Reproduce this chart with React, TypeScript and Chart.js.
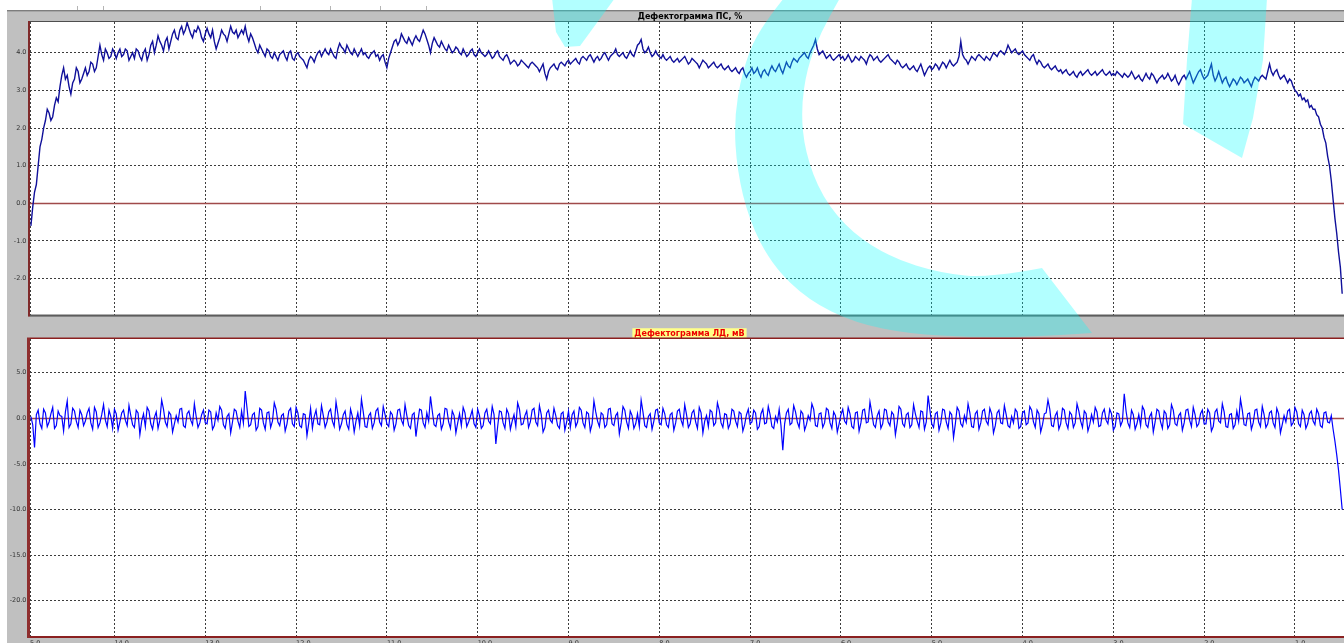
import React, { useEffect, useRef } from "react";
import { Chart, registerables } from "chart.js";

Chart.register(...registerables);

// ---- distance axis (reversed, km) ----
const X_STEP = 0.02;
const X_FIRST = 14.92; // first sample of the first (partial) km row
const X_MIN = 0.46;
const X_MAX = 14.93;
const X_TICK_VALUES = [14.93, 14, 13, 12, 11, 10, 9, 8, 7, 6, 5, 4, 3, 2, 1];
const X_TICK_LABELS = ["5.0", "14.0", "13.0", "12.0", "11.0", "10.0", "9.0", "8.0", "7.0", "6.0", "5.0", "4.0", "3.0", "2.0", "1.0"];

// ---- titles ----
const PS_TITLE = "Дефектограмма ПС, %";
const LD_TITLE = "Дефектограмма ЛД, мВ";

// ---- y axes ----
const PS_Y_TICKS = [4, 3, 2, 1, 0, -1, -2];
const PS_Y_MIN = -2.955;
const PS_Y_MAX = 4.816;
const LD_Y_TICKS = [5, 0, -5, -10, -15, -20];
const LD_Y_MIN = -23.87;
const LD_Y_MAX = 8.7;

// ---- series: Дефектограмма ПС, % (one row per km, samples every 0.02 km) ----
const PS_ROWS = [
  [-0.6, -0.1, 0.3, 0.5, 1.0, 1.5, 1.7, 2.0, 2.2, 2.5, 2.4, 2.2, 2.3, 2.6, 2.8, 2.7, 3.1, 3.4, 3.6, 3.3, 3.4, 3.1, 2.9, 3.2, 3.3, 3.6, 3.5, 3.2, 3.3, 3.45, 3.6, 3.4, 3.5, 3.75, 3.7, 3.5, 3.6, 3.9, 4.2, 3.95, 3.8, 4.1, 4.0, 3.85, 3.9, 4.1, 4.0],
  [3.85, 4.0, 4.1, 3.9, 3.95, 4.1, 4.05, 3.8, 3.9, 4.0, 3.85, 4.1, 4.05, 3.9, 3.8, 4.0, 4.1, 3.8, 3.95, 4.2, 4.3, 4.0, 4.2, 4.45, 4.3, 4.2, 4.05, 4.3, 4.4, 4.1, 4.3, 4.5, 4.6, 4.4, 4.35, 4.6, 4.7, 4.5, 4.6, 4.8, 4.65, 4.5, 4.4, 4.6, 4.55, 4.7, 4.6, 4.4, 4.3, 4.5],
  [4.65, 4.5, 4.4, 4.6, 4.3, 4.1, 4.25, 4.4, 4.6, 4.5, 4.45, 4.3, 4.5, 4.7, 4.55, 4.5, 4.6, 4.4, 4.5, 4.6, 4.5, 4.7, 4.45, 4.3, 4.5, 4.4, 4.25, 4.1, 4.0, 4.2, 4.1, 4.0, 3.9, 4.1, 4.05, 3.9, 3.85, 4.0, 3.9, 3.8, 3.95, 4.0, 4.05, 3.9, 3.8, 4.0, 4.05, 3.85, 3.8, 3.95],
  [4.0, 3.9, 3.85, 3.8, 3.7, 3.6, 3.8, 3.9, 3.85, 3.75, 3.9, 4.0, 4.05, 3.9, 4.0, 4.1, 4.0, 3.95, 4.1, 4.0, 3.9, 3.85, 4.1, 4.25, 4.15, 4.1, 4.0, 4.2, 4.1, 4.0, 3.95, 4.1, 4.0, 3.9, 4.0, 4.1, 3.95, 4.0, 3.9, 3.85, 3.95, 4.0, 4.05, 3.9, 3.95, 3.8, 3.9, 3.95, 3.75, 3.6],
  [3.85, 4.0, 4.15, 4.3, 4.35, 4.2, 4.3, 4.5, 4.4, 4.3, 4.25, 4.4, 4.3, 4.2, 4.35, 4.45, 4.35, 4.3, 4.45, 4.6, 4.5, 4.35, 4.2, 4.0, 4.25, 4.4, 4.3, 4.2, 4.15, 4.3, 4.2, 4.1, 4.05, 4.2, 4.1, 4.0, 4.05, 4.15, 4.1, 4.0, 3.95, 4.1, 4.0, 3.9, 3.95, 4.05, 4.1, 3.95, 3.9, 4.0],
  [4.1, 4.0, 3.95, 3.9, 3.95, 4.05, 3.95, 3.85, 3.9, 4.0, 4.05, 3.9, 3.85, 3.8, 3.9, 3.95, 3.85, 3.7, 3.75, 3.8, 3.75, 3.65, 3.7, 3.8, 3.75, 3.7, 3.65, 3.6, 3.7, 3.75, 3.7, 3.65, 3.6, 3.5, 3.6, 3.7, 3.45, 3.3, 3.5, 3.6, 3.65, 3.7, 3.6, 3.55, 3.7, 3.75, 3.7, 3.65, 3.75, 3.8],
  [3.7, 3.75, 3.8, 3.85, 3.75, 3.7, 3.85, 3.9, 3.85, 3.8, 3.9, 3.95, 3.85, 3.75, 3.85, 3.9, 3.8, 3.85, 3.95, 4.0, 3.9, 3.8, 3.9, 3.95, 4.0, 4.1, 3.95, 3.9, 3.95, 4.0, 3.9, 3.85, 3.95, 4.05, 3.95, 3.9, 4.05, 4.2, 4.25, 4.35, 4.1, 4.0, 4.05, 4.15, 4.0, 3.9, 3.95, 4.05, 3.95, 3.9],
  [3.85, 3.95, 3.85, 3.8, 3.85, 3.9, 3.8, 3.75, 3.8, 3.85, 3.75, 3.8, 3.85, 3.9, 3.8, 3.7, 3.75, 3.85, 3.8, 3.75, 3.7, 3.6, 3.7, 3.8, 3.75, 3.7, 3.6, 3.65, 3.7, 3.75, 3.65, 3.6, 3.65, 3.7, 3.6, 3.55, 3.6, 3.65, 3.55, 3.5, 3.55, 3.6, 3.5, 3.45, 3.55, 3.6, 3.45, 3.35, 3.45, 3.5],
  [3.6, 3.45, 3.5, 3.6, 3.45, 3.35, 3.5, 3.55, 3.45, 3.4, 3.55, 3.65, 3.55, 3.5, 3.6, 3.7, 3.55, 3.45, 3.6, 3.75, 3.65, 3.6, 3.75, 3.85, 3.8, 3.75, 3.85, 3.9, 3.95, 4.0, 3.9, 3.85, 4.0, 4.1, 4.2, 4.35, 4.1, 3.95, 4.0, 4.05, 3.95, 3.85, 3.9, 3.95, 3.85, 3.8, 3.85, 3.9, 3.95, 3.85],
  [3.9, 3.8, 3.85, 3.95, 3.85, 3.75, 3.8, 3.9, 3.85, 3.8, 3.9, 3.85, 3.8, 3.7, 3.85, 3.95, 3.9, 3.8, 3.85, 3.9, 3.8, 3.75, 3.8, 3.85, 3.9, 3.95, 3.85, 3.8, 3.75, 3.7, 3.8, 3.75, 3.65, 3.6, 3.65, 3.7, 3.6, 3.55, 3.6, 3.65, 3.55, 3.5, 3.6, 3.7, 3.55, 3.4, 3.5, 3.6, 3.65, 3.55],
  [3.6, 3.7, 3.65, 3.55, 3.65, 3.75, 3.7, 3.6, 3.7, 3.8, 3.7, 3.65, 3.7, 3.75, 3.9, 4.3, 3.95, 3.85, 3.8, 3.7, 3.8, 3.9, 3.85, 3.8, 3.9, 3.95, 3.9, 3.85, 3.8, 3.9, 3.85, 3.8, 3.9, 4.0, 3.95, 3.9, 4.0, 4.05, 4.0, 3.95, 4.05, 4.2, 4.1, 4.0, 4.05, 4.1, 4.0, 3.95, 4.0, 4.05],
  [3.95, 3.9, 3.85, 3.8, 3.9, 3.95, 3.8, 3.7, 3.8, 3.75, 3.65, 3.6, 3.65, 3.7, 3.6, 3.55, 3.6, 3.65, 3.55, 3.5, 3.55, 3.45, 3.5, 3.55, 3.45, 3.4, 3.45, 3.5, 3.4, 3.35, 3.45, 3.5, 3.4, 3.45, 3.5, 3.55, 3.45, 3.4, 3.45, 3.5, 3.4, 3.45, 3.5, 3.55, 3.45, 3.4, 3.45, 3.5, 3.4, 3.45],
  [3.4, 3.5, 3.45, 3.4, 3.35, 3.45, 3.4, 3.35, 3.4, 3.5, 3.4, 3.3, 3.35, 3.4, 3.3, 3.25, 3.35, 3.45, 3.35, 3.3, 3.45, 3.4, 3.3, 3.2, 3.3, 3.35, 3.4, 3.3, 3.35, 3.45, 3.35, 3.25, 3.3, 3.4, 3.25, 3.15, 3.25, 3.35, 3.4, 3.3, 3.4, 3.5, 3.35, 3.2, 3.3, 3.4, 3.5, 3.55, 3.4, 3.3],
  [3.35, 3.4, 3.55, 3.7, 3.4, 3.25, 3.35, 3.5, 3.35, 3.2, 3.3, 3.35, 3.2, 3.1, 3.2, 3.3, 3.25, 3.15, 3.25, 3.35, 3.3, 3.2, 3.25, 3.3, 3.2, 3.1, 3.25, 3.35, 3.3, 3.25, 3.35, 3.4, 3.35, 3.3, 3.5, 3.7, 3.5, 3.4, 3.5, 3.55, 3.4, 3.3, 3.35, 3.4, 3.3, 3.2, 3.3, 3.25, 3.1, 3.0],
  [2.95, 2.85, 2.9, 2.75, 2.8, 2.7, 2.75, 2.55, 2.6, 2.5, 2.5, 2.35, 2.3, 2.1, 2.0, 1.75, 1.6, 1.25, 1.0, 0.6, 0.1, -0.4, -0.8, -1.3, -1.7, -2.4],
];

// ---- series: Дефектограмма ЛД, мВ (same sampling) ----
const LD_ROWS = [
  [0.2, -0.7, -3.2, 0.4, 0.9, -0.6, -1.1, 1.0, 0.6, -0.9, -0.4, 0.5, 1.2, -1.1, -0.8, 0.8, 0.3, 0.2, -1.4, 0.7, 1.9, -1.0, -0.6, 1.1, 0.8, -0.3, -1.0, 0.9, 0.4, -0.8, -0.3, 0.6, 1.1, -0.5, -1.2, 1.2, 0.7, -1.0, -0.5, 0.4, 1.5, -0.2, -0.9, 0.9, 0.2, -1.1, 1.0],
  [0.5, -1.3, -0.4, 0.6, 0.9, -0.2, -0.8, 1.4, 0.3, -0.7, -1.0, 0.9, 0.6, -1.8, -0.3, 0.5, -0.9, 1.2, 0.8, -0.6, -1.2, 0.1, 0.7, -1.1, -0.2, 2.0, 1.0, -0.4, -0.9, 0.7, 0.4, -1.5, -0.6, 0.3, -0.4, 1.0, 1.1, -0.8, -1.0, 0.5, 0.8, -0.2, -0.7, 1.6, 0.2, -1.0, -0.5, 0.4, 0.9, -0.5],
  [-0.6, 0.9, 0.7, -1.2, -0.8, 0.6, -0.2, 1.3, 0.9, -0.7, -1.1, 0.2, 0.5, -1.6, -0.4, 1.0, 0.8, -0.3, -1.0, 0.8, -0.5, 3.0, 1.1, -0.9, -0.7, 0.4, 0.6, -1.3, -0.9, 1.1, 0.9, -0.5, -1.2, 0.6, 0.7, -1.0, -0.3, 1.7, 1.0, -0.4, -0.8, 0.3, 0.5, -1.4, -0.6, 0.8, 1.1, -0.6, -0.9, 1.2],
  [0.6, -0.8, -1.0, 0.5, 0.4, -1.9, -0.5, 1.1, -1.1, 0.2, 0.9, -0.6, -0.7, 1.4, 0.3, -1.0, -0.4, 0.7, 1.0, -0.3, -0.9, 1.8, 0.5, -1.2, -0.6, 0.4, 0.8, -0.7, -1.2, 1.0, 0.2, -1.5, -0.3, 0.6, -0.8, 2.1, 0.7, -0.9, -1.0, 0.3, 0.6, -1.1, -0.5, 0.8, 1.1, -0.4, -0.8, 1.3, 0.4, -0.6],
  [-0.9, 0.7, 0.4, -1.3, -0.6, 0.9, 1.0, -0.2, -0.7, 1.5, 0.3, -0.8, -1.1, 0.4, 0.6, -2.0, -0.4, 1.0, 0.9, -0.5, -1.0, 0.6, -0.3, 2.4, 0.8, -0.7, -0.9, 0.3, 0.5, -1.2, -0.6, 1.1, 1.0, -0.4, -1.1, 0.8, 0.3, -1.6, -0.5, 0.5, -0.8, 1.2, 0.6, -0.9, -0.4, 0.2, 0.9, -0.6, -1.0, 1.0],
  [0.3, -1.1, -0.8, 0.6, 1.0, -0.3, -0.6, 1.3, 0.4, -2.8, -0.9, 0.8, 0.7, -0.5, -1.1, 1.0, 0.5, -1.2, -0.3, 0.4, -0.9, 1.7, 1.0, -0.7, -0.6, 0.3, 0.8, -1.0, -0.4, 0.9, 1.1, -0.4, -0.8, 1.4, 0.4, -1.5, -1.0, 0.6, 0.9, -0.2, -0.5, 1.1, 0.3, -0.8, -1.1, 0.5, 0.7, -1.3, -0.4, 0.8],
  [-1.0, 0.4, 0.8, -0.9, -0.4, 1.2, 0.9, -0.5, -1.0, 0.7, 0.5, -1.4, -0.6, 1.9, 0.7, -0.3, -0.9, 0.6, 0.4, -1.0, -0.7, 1.0, 1.1, -0.6, -0.8, 0.3, 0.6, -1.7, -0.5, 1.3, 0.9, -0.4, -1.1, 0.8, 0.3, -1.1, -0.6, 0.5, -0.9, 2.0, 0.7, -0.8, -1.0, 0.2, 0.5, -1.2, -0.3, 0.9, 1.0, -0.5],
  [-0.7, 1.1, 0.5, -0.7, -1.0, 0.4, 0.6, -1.3, -0.5, 0.8, 1.0, -0.2, -0.8, 1.5, 0.4, -1.0, -0.6, 0.6, 0.9, -0.4, -1.1, 1.2, 0.6, -1.6, -0.3, 0.3, -0.9, 0.9, 0.7, -0.8, -0.5, 1.7, 0.9, -0.5, -1.0, 0.5, 0.4, -1.1, -0.6, 1.0, 0.8, -0.3, -0.9, 0.7, 0.5, -1.4, -0.7, 0.4, 1.0, -0.6],
  [-0.4, 0.9, 0.6, -1.2, -0.9, 0.5, 1.0, -0.6, -0.5, 1.3, 0.4, -0.9, -1.1, 0.2, -0.4, 1.0, -0.8, -3.5, -0.6, 0.6, 1.0, -0.7, -0.5, 1.4, 0.7, -0.4, -1.0, 0.8, 0.5, -1.3, -0.7, 0.3, -0.2, 1.6, 1.0, -0.8, -0.9, 0.5, 0.6, -1.0, -0.5, 1.1, 0.9, -0.5, -1.1, 0.7, 0.3, -1.5, -0.6, 0.4],
  [1.0, -0.3, -0.6, 1.2, 0.5, -0.9, -1.1, 0.6, 0.7, -1.4, -0.5, 0.9, 1.0, -0.5, -0.4, 1.8, 0.6, -0.7, -1.0, 0.3, 0.8, -1.1, -0.6, 1.0, 0.9, -0.4, -0.8, 0.7, 0.4, -1.8, -0.5, 1.3, 1.0, -0.6, -0.9, 0.4, 0.6, -1.0, -0.7, 1.5, 0.5, -0.3, -1.0, 0.8, 0.7, -1.2, -0.4, 2.5, 0.9, -0.6],
  [-1.0, 0.5, 0.7, -1.3, -0.5, 1.0, 0.9, -0.4, -1.1, 0.7, 0.4, -2.1, -0.6, 1.2, 0.8, -0.6, -0.9, 0.3, -0.4, 1.6, 0.6, -0.9, -1.0, 0.5, 0.8, -1.2, -0.5, 0.8, 1.0, -0.3, -0.7, 1.1, 0.5, -1.6, -0.8, 0.6, 0.9, -0.5, -0.6, 1.4, 0.4, -0.8, -1.0, 0.2, -0.5, 1.0, 0.7, -1.1, -0.9, 0.6],
  [0.8, -0.7, -0.5, 1.3, 0.9, -0.4, -1.0, 0.9, 0.5, -1.5, -0.7, 0.5, 0.6, 2.0, 1.0, -0.8, -0.9, 0.3, 0.7, -1.2, -0.6, 1.1, 0.9, -0.5, -1.1, 0.7, 0.4, -1.0, -0.5, 1.6, 0.8, -0.3, -1.0, 0.8, 0.5, -1.4, -0.7, 0.4, -0.4, 1.2, 0.7, -0.9, -0.8, 0.6, 1.0, -0.2, -0.6, 1.0, 0.5, -1.3],
  [-0.9, 0.6, 0.5, -0.8, -0.3, 2.7, 0.8, -0.5, -1.0, 0.9, 0.4, -1.2, -0.6, 0.4, -0.8, 1.3, 0.9, -0.7, -1.0, 0.2, 0.6, -1.5, -0.4, 1.0, 0.8, -0.4, -1.1, 0.8, 0.5, -1.1, -0.7, 1.5, 0.9, -0.6, -0.8, 0.3, 0.6, -1.3, -0.5, 0.9, 1.0, -0.2, -0.9, 1.2, 0.4, -0.9, -0.6, 0.5, 0.9, -0.6],
  [-0.6, 1.0, 0.6, -1.4, -0.9, 0.7, 1.0, -0.3, -0.5, 1.6, 0.7, -0.9, -1.0, 0.4, 0.5, -1.1, -0.7, 0.8, -0.3, 2.1, 0.9, -0.7, -0.8, 0.5, 0.6, -1.2, -0.5, 0.9, 1.0, -0.4, -0.9, 1.3, 0.4, -1.0, -0.6, 0.6, 0.8, -0.5, -1.0, 1.1, 0.5, -1.6, -0.7, 0.3, -0.4, 0.8, 1.0, -0.8, -0.5, 1.2],
  [0.7, -0.6, -0.9, 0.9, 0.4, -1.1, -0.6, 0.5, 0.8, -0.3, -0.7, 1.0, 0.5, -0.8, -1.0, 0.6, 0.7, -0.4, -0.5, 0.3, -1.2, -2.5, -4.0, -5.7, -7.8, -10.0],
];

// x of sample j in km-row r: first row starts at X_FIRST, row r>=1 starts just below km (15 - r)
const rowStart = (r: number) => (r === 0 ? X_FIRST : 15 - r - X_STEP);
const toPoints = (rows: number[][]) =>
  rows.flatMap((row, r) =>
    row.map((v, j) => ({ x: Math.round((rowStart(r) - j * X_STEP) * 1000) / 1000, y: v }))
  );
const PS_POINTS = toPoints(PS_ROWS);
const LD_POINTS = toPoints(LD_ROWS);

const TICK_FONT = { family: "'DejaVu Sans', sans-serif", size: 6.5 };
const GRID_COLOR = "#3c3c3c";

const panelPlugin = {
  id: "panel",
  beforeDraw(chart: any, _args: any, opts: any) {
    const { ctx, chartArea: a, width, height } = chart;
    ctx.save();
    ctx.fillStyle = "#c0c0c0";
    ctx.fillRect(0, 0, width, height);
    if (opts.topEdge) {
      ctx.fillStyle = "#7d7d7d";
      ctx.fillRect(0, 0, width, 1);
      ctx.fillStyle = "#a6a6a6";
      ctx.fillRect(0, 1, width, 1);
    }
    ctx.fillStyle = "#ffffff";
    ctx.fillRect(a.left, a.top, a.right - a.left, a.bottom - a.top);
    ctx.font = "bold 8px 'DejaVu Sans', sans-serif";
    ctx.textAlign = "center";
    ctx.textBaseline = "middle";
    const tw = ctx.measureText(opts.title).width;
    if (opts.titleBg) {
      ctx.fillStyle = opts.titleBg;
      ctx.fillRect(opts.titleX - tw / 2 - 2, opts.titleY - 4.75, tw + 4, 9.5);
    }
    ctx.fillStyle = opts.titleColor;
    ctx.fillText(opts.title, opts.titleX, opts.titleY + 0.5);
    ctx.restore();
  },
  beforeDatasetsDraw(chart: any, _args: any, opts: any) {
    const { ctx, chartArea: a, scales } = chart;
    const y0 = Math.round(scales.y.getPixelForValue(0)) + 0.5;
    ctx.save();
    ctx.strokeStyle = opts.zeroColor;
    ctx.lineWidth = 1.4;
    ctx.beginPath();
    ctx.moveTo(a.left, y0);
    ctx.lineTo(a.right, y0);
    ctx.stroke();
    ctx.restore();
  },
  afterDraw(chart: any, _args: any, opts: any) {
    const { ctx, chartArea: a } = chart;
    const b = opts.borders;
    ctx.save();
    ctx.fillStyle = b.topColor;
    ctx.fillRect(a.left, a.top - b.topWidth, a.right - a.left, b.topWidth);
    ctx.fillStyle = b.bottomColor;
    ctx.fillRect(a.left, a.bottom, a.right - a.left, b.bottomWidth);
    ctx.fillStyle = b.leftColor;
    ctx.fillRect(a.left - b.leftWidth, a.top - b.topWidth, b.leftWidth, a.bottom - a.top + b.topWidth + b.bottomWidth);
    ctx.restore();
  },
};

function makeConfig(p: any): any {
  return {
    type: "line",
    data: {
      datasets: [
        {
          data: p.points,
          borderColor: p.color,
          borderWidth: p.lineWidth,
          pointRadius: 0,
          pointHoverRadius: 0,
          tension: 0,
          fill: false,
        },
      ],
    },
    options: {
      responsive: false,
      animation: false,
      devicePixelRatio: 1,
      parsing: false,
      normalized: true,
      events: [],
      layout: { autoPadding: false, padding: { top: p.padTop, left: 0, right: 0, bottom: 0 } },
      plugins: {
        legend: { display: false },
        tooltip: { enabled: false },
        title: { display: false },
        panel: p.panel,
      },
      scales: {
        x: {
          type: "linear",
          reverse: true,
          min: X_MIN,
          max: X_MAX,
          afterBuildTicks: (s: any) => {
            s.ticks = X_TICK_VALUES.map((v) => ({ value: v }));
          },
          afterFit: (s: any) => {
            s.height = p.xHeight;
          },
          ticks: {
            display: p.showX,
            autoSkip: false,
            maxRotation: 0,
            minRotation: 0,
            align: "start",
            padding: 3,
            color: "#333333",
            font: TICK_FONT,
            callback: (_v: any, i: number) => X_TICK_LABELS[i],
          },
          grid: { color: GRID_COLOR, lineWidth: 1, drawTicks: false },
          border: { display: false, dash: [2, 2] },
        },
        y: {
          type: "linear",
          min: p.yMin,
          max: p.yMax,
          afterBuildTicks: (s: any) => {
            s.ticks = p.yTicks.map((v: number) => ({ value: v }));
          },
          afterFit: (s: any) => {
            s.width = 23;
          },
          ticks: {
            autoSkip: false,
            padding: 3.5,
            color: "#333333",
            font: TICK_FONT,
            callback: (v: any) => Number(v).toFixed(1),
          },
          grid: {
            color: (c: any) => (c.tick && c.tick.value === 0 ? "rgba(0,0,0,0)" : GRID_COLOR),
            lineWidth: 1,
            drawTicks: false,
          },
          border: { display: false, dash: [2, 2] },
        },
      },
    },
    plugins: [panelPlugin],
  };
}

type Pt = [number, number];
function smooth(points: Pt[]): string {
  let d = `L ${points[0][0]} ${points[0][1]} `;
  for (let k = 1; k < points.length - 1; k++) {
    const [x, y] = points[k];
    const mx = (x + points[k + 1][0]) / 2;
    const my = (y + points[k + 1][1]) / 2;
    d += `Q ${x} ${y} ${mx} ${my} `;
  }
  const last = points[points.length - 1];
  d += `L ${last[0]} ${last[1]} `;
  return d;
}

const RING_OUTER: Pt[] = [
  [784, -2], [758, 30], [742, 72], [734, 120], [737, 170], [749, 220], [772, 265],
  [808, 300], [855, 323], [910, 334], [970, 337], [1030, 337], [1092, 333],
];
const RING_INNER: Pt[] = [
  [1042, 268], [990, 278], [940, 273], [892, 258], [852, 233], [822, 197], [805, 152],
  [801, 110], [807, 68], [821, 32], [840, -2],
];
const ARM: Pt[] = [[1192, -2], [1267, -2], [1263, 60], [1253, 118], [1242, 158], [1183, 124], [1187, 60]];
const STRIPE: Pt[] = [[552, -2], [615, -2], [580, 46], [565, 47], [556, 32]];
const poly = (pts: Pt[]) => "M " + pts.map((p) => `${p[0]} ${p[1]}`).join(" L ") + " Z";
const RING_PATH =
  `M ${RING_OUTER[0][0]} ${RING_OUTER[0][1]} ` + smooth(RING_OUTER) + smooth(RING_INNER) + "Z";

const TOOLBAR_MARKS = [77, 103, 260, 330, 380, 426];

export default function App() {
  const topRef = useRef<HTMLCanvasElement>(null);
  const botRef = useRef<HTMLCanvasElement>(null);

  useEffect(() => {
    const top = new Chart(
      topRef.current as HTMLCanvasElement,
      makeConfig({
        points: PS_POINTS,
        color: "#10109a",
        lineWidth: 1.4,
        padTop: 12,
        xHeight: 2,
        showX: false,
        yMin: PS_Y_MIN,
        yMax: PS_Y_MAX,
        yTicks: PS_Y_TICKS,
        panel: {
          topEdge: true,
          title: PS_TITLE,
          titleX: 683,
          titleY: 6,
          titleColor: "#000000",
          titleBg: null,
          zeroColor: "#a04a4a",
          borders: {
            topColor: "#4e4e4e",
            topWidth: 1,
            leftColor: "#7f2a2a",
            leftWidth: 2,
            bottomColor: "#5c5c5c",
            bottomWidth: 2,
          },
        },
      })
    );
    const bot = new Chart(
      botRef.current as HTMLCanvasElement,
      makeConfig({
        points: LD_POINTS,
        color: "#0000ff",
        lineWidth: 1.2,
        padTop: 17,
        xHeight: 26,
        showX: true,
        yMin: LD_Y_MIN,
        yMax: LD_Y_MAX,
        yTicks: LD_Y_TICKS,
        panel: {
          topEdge: false,
          title: LD_TITLE,
          titleX: 682.5,
          titleY: 11,
          titleColor: "#ee0000",
          titleBg: "#ffff88",
          zeroColor: "#a04a4a",
          borders: {
            topColor: "#8b2020",
            topWidth: 1.5,
            leftColor: "#8e2e2e",
            leftWidth: 3,
            bottomColor: "#8b2020",
            bottomWidth: 2,
          },
        },
      })
    );
    return () => {
      top.destroy();
      bot.destroy();
    };
  }, []);

  return (
    <div
      style={{
        position: "fixed",
        left: 0,
        top: 0,
        width: 1344,
        height: 662,
        background: "#ffffff",
        overflow: "hidden",
      }}
    >
      {TOOLBAR_MARKS.map((x) => (
        <div
          key={x}
          style={{ position: "absolute", left: x, top: 6, width: 1, height: 4, background: "#b4b4b4" }}
        />
      ))}
      <canvas
        ref={topRef}
        width={1337}
        height={312}
        style={{ position: "absolute", left: 7, top: 10, display: "block" }}
      />
      <canvas
        ref={botRef}
        width={1337}
        height={340}
        style={{ position: "absolute", left: 7, top: 322, display: "block" }}
      />
      <svg
        width={1344}
        height={662}
        style={{ position: "absolute", left: 0, top: 0, pointerEvents: "none" }}
      >
        <g fill="rgba(0,255,255,0.3)">
          <path d={RING_PATH} />
          <path d={poly(ARM)} />
          <path d={poly(STRIPE)} />
        </g>
      </svg>
    </div>
  );
}
